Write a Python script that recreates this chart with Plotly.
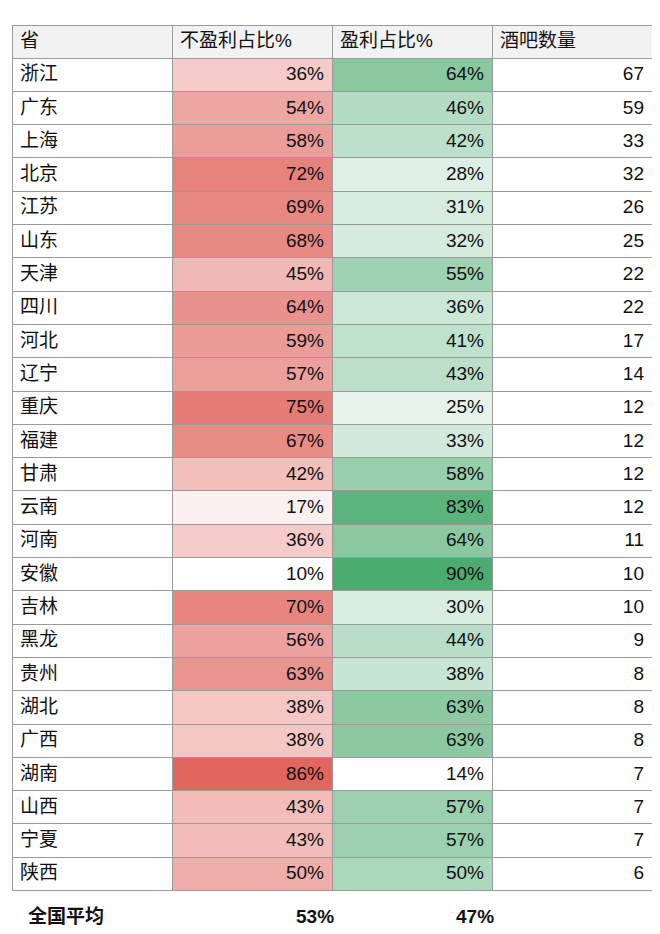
import plotly.graph_objects as go

provinces = ["浙江","广东","上海","北京","江苏","山东","天津","四川","河北","辽宁","重庆","福建","甘肃","云南","河南","安徽","吉林","黑龙","贵州","湖北","广西","湖南","山西","宁夏","陕西"]
loss_pct = [36,54,58,72,69,68,45,64,59,57,75,67,42,17,36,10,70,56,63,38,38,86,43,43,50]
profit_pct = [64,46,42,28,31,32,55,36,41,43,25,33,58,83,64,90,30,44,38,63,63,14,57,57,50]
bars = [67,59,33,32,26,25,22,22,17,14,12,12,12,12,11,10,10,9,8,8,8,7,7,7,6]
headers = ["省","不盈利占比%","盈利占比%","酒吧数量"]
avg_label, avg_loss, avg_profit = "全国平均", 53, 47

def scale(vals, rgb):
    lo, hi = min(vals), max(vals)
    out = []
    for v in vals:
        t = (v - lo) / (hi - lo)
        c = [round(255 + (x - 255) * t) for x in rgb]
        out.append(f"rgb({c[0]},{c[1]},{c[2]})")
    return out

red = scale(loss_pct, (224, 102, 94))
green = scale(profit_pct, (76, 172, 112))
white = ["white"] * len(provinces)

FONT = "Liberation Sans, Noto Sans CJK SC"
W, H = 660, 934
fig = go.Figure(go.Table(
    domain=dict(x=[4/W, 644/W], y=[0.03, 1-17/H]),
    columnwidth=[1, 1, 1, 1],
    header=dict(values=headers, fill_color="#f2f2f2", line_color="#9a9a9a",
                align="left", height=33,
                font=dict(family=FONT, size=19, color="#111")),
    cells=dict(values=[provinces, [f"{v}%" for v in loss_pct], [f"{v}%" for v in profit_pct], bars],
               fill_color=[white, red, green, white], line_color="#9a9a9a",
               align=["left", "right", "right", "right"], height=33.3,
               font=dict(family=FONT, size=19, color="#111")),
))
fy = 1 - 908/H
for x, t, anc in [(18, avg_label, "left"), (328, f"{avg_loss}%", "right"), (488, f"{avg_profit}%", "right")]:
    fig.add_annotation(x=x/W, y=fy, xref="paper", yref="paper", text=f"<b>{t}</b>", showarrow=False,
                       xanchor=anc, yanchor="middle",
                       font=dict(family=FONT, size=19, color="#111"))
fig.update_layout(width=W, height=H, margin=dict(l=0, r=0, t=0, b=0), paper_bgcolor="white")
fig.write_html("out.html")
